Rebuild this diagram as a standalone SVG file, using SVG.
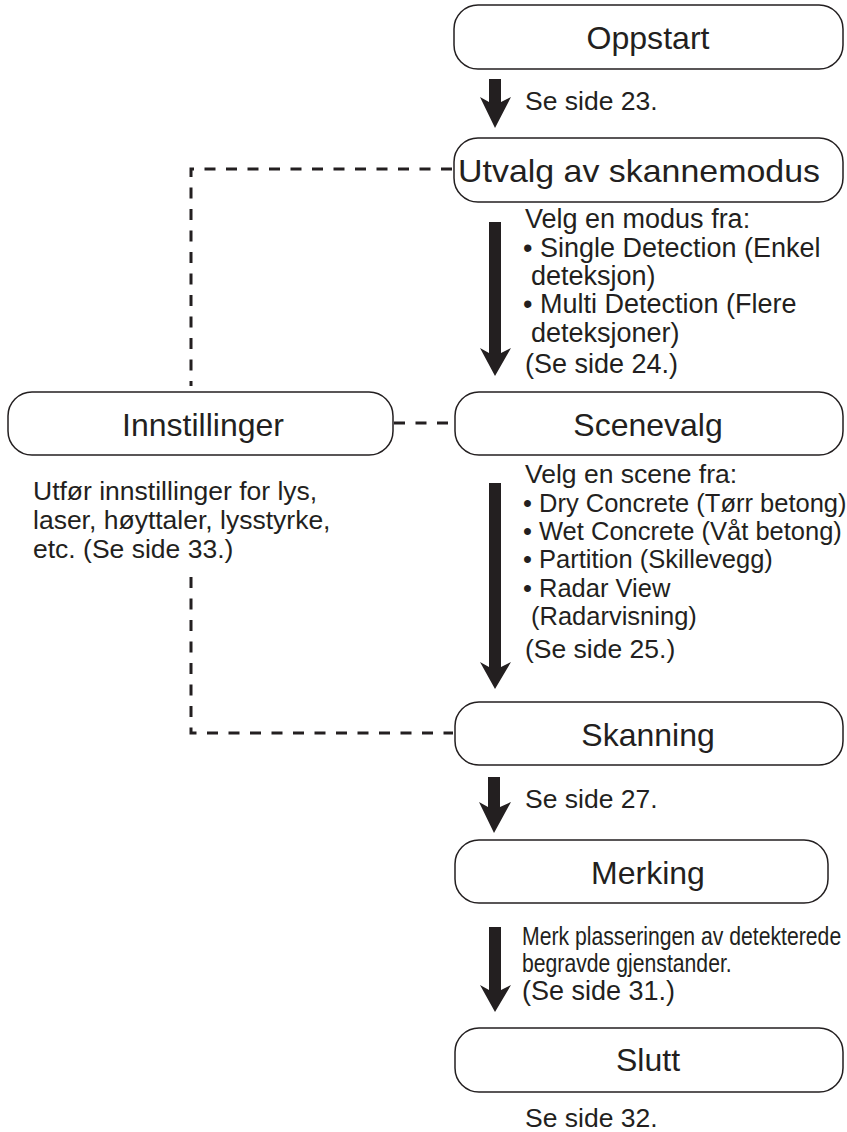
<svg xmlns="http://www.w3.org/2000/svg" width="847" height="1132" viewBox="0 0 847 1132">
<style>
.box{fill:#fff;stroke:#231f20;stroke-width:1.5}
.lbl{font-family:"Liberation Sans",Arial,sans-serif;font-size:32px;fill:#231f20;text-anchor:middle}
.txt{font-family:"Liberation Sans",Arial,sans-serif;font-size:26.5px;fill:#231f20}
.md{font-size:27px}
.sc{font-size:25.5px}
.dash{fill:none;stroke:#231f20;stroke-width:3;stroke-dasharray:11 10.5}
.arr{fill:#231f20}
</style>
<rect width="847" height="1132" fill="#fff"/>
<g id="connectors">
<path class="dash" d="M452,169 H191 V386"/>
<path class="dash" d="M191,577 V733 H453"/>
<path class="dash" d="M394,423 H454"/>
<path class="arr" d="M489,79 H501 V102 L511,97 L495,128 L480,97 L489,102 Z"/>
<path class="arr" d="M489,222 H501 V353 L511,348 L495,376 L480,348 L489,353 Z"/>
<path class="arr" d="M489,483 H501 V667 L511,662 L495,689 L480,662 L489,667 Z"/>
<path class="arr" d="M488,777 H500 V807 L511,802 L494,833 L479,802 L488,807 Z"/>
<path class="arr" d="M489,927 H501 V990 L511,985 L495,1012 L480,985 L489,990 Z"/>
</g>
<g id="oppstart">
<rect class="box" x="454" y="5" width="389" height="64" rx="24"/>
<text class="lbl" x="648" y="49" textLength="123" lengthAdjust="spacingAndGlyphs">Oppstart</text>
</g>
<g id="utvalg">
<rect class="box" x="454" y="138" width="389" height="64" rx="24"/>
<text class="lbl" x="639" y="182" textLength="362" lengthAdjust="spacingAndGlyphs">Utvalg av skannemodus</text>
</g>
<g id="innstillinger">
<rect class="box" x="8" y="392" width="385" height="63" rx="24"/>
<text class="lbl" x="203" y="436">Innstillinger</text>
</g>
<g id="scenevalg">
<rect class="box" x="455" y="392" width="388" height="63" rx="24"/>
<text class="lbl" x="648" y="436">Scenevalg</text>
</g>
<g id="skanning">
<rect class="box" x="455" y="702" width="388" height="63" rx="24"/>
<text class="lbl" x="648" y="746">Skanning</text>
</g>
<g id="merking">
<rect class="box" x="455" y="840" width="373" height="63" rx="24"/>
<text class="lbl" x="648" y="884">Merking</text>
</g>
<g id="slutt">
<rect class="box" x="455" y="1028" width="388" height="64" rx="24"/>
<text class="lbl" x="648" y="1071">Slutt</text>
</g>
<g id="texts">
<text class="txt" x="525" y="110">Se side 23.</text>
<text class="txt md" x="525" y="228">Velg en modus fra:</text>
<text class="txt md" x="523" y="257">• Single Detection (Enkel</text>
<text class="txt md" x="531" y="285">deteksjon)</text>
<text class="txt md" x="523" y="313">• Multi Detection (Flere</text>
<text class="txt md" x="531" y="342">deteksjoner)</text>
<text class="txt md" x="525" y="373">(Se side 24.)</text>
<text class="txt" x="33" y="500">Utfør innstillinger for lys,</text>
<text class="txt" x="33" y="529">laser, høyttaler, lysstyrke,</text>
<text class="txt" x="33" y="558">etc. (Se side 33.)</text>
<text class="txt" x="525" y="483">Velg en scene fra:</text>
<text class="txt sc" x="523" y="512">• Dry Concrete (Tørr betong)</text>
<text class="txt sc" x="523" y="540">• Wet Concrete (Våt betong)</text>
<text class="txt sc" x="523" y="568">• Partition (Skillevegg)</text>
<text class="txt sc" x="523" y="597">• Radar View</text>
<text class="txt sc" x="531" y="625">(Radarvisning)</text>
<text class="txt" x="525" y="658">(Se side 25.)</text>
<text class="txt" x="525" y="808">Se side 27.</text>
<text class="txt" transform="translate(522,945) scale(0.8,1)">Merk plasseringen av detekterede</text>
<text class="txt" transform="translate(522,972) scale(0.8,1)">begravde gjenstander.</text>
<text class="txt md" x="522" y="1000">(Se side 31.)</text>
<text class="txt" x="525" y="1127">Se side 32.</text>
</g>
</svg>
